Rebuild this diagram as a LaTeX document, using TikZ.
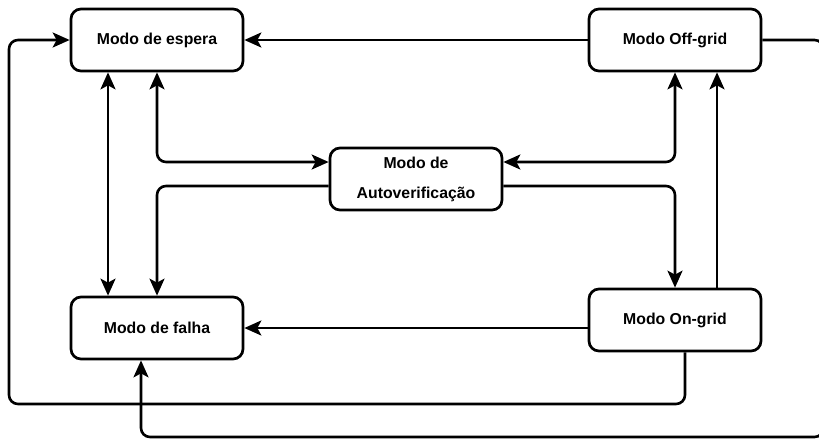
\documentclass[tikz,border=0pt]{standalone}
\usepackage{fontspec}
\setmainfont{Liberation Sans}
\usetikzlibrary{arrows.meta,calc}
\begin{document}
\begin{tikzpicture}[x=1pt,y=-1pt,
  box/.style={draw,line width=2.7pt,rounded corners=10pt,minimum width=172pt,minimum height=62pt,
    align=center,font=\bfseries\fontsize{15.8}{31}\selectfont,inner sep=0pt},
  tip/.tip={Stealth[length=17pt,width=15pt,inset=4pt]},
  conn/.style={line width=2.6pt,rounded corners=9pt,arrows={-tip}},
  dconn/.style={line width=2.6pt,rounded corners=9pt,arrows={tip-tip}}]
\useasboundingbox (0,0) rectangle (819,440);
\node[box] (esp) at (157,40) {Modo de espera};
\node[box] (off) at (675,40) {Modo Off-grid};
\node[box] (auto) at (416,179) {\raisebox{-3pt}{Modo de}\\\raisebox{-2pt}{Autoverificação}};
\node[box] (fal) at (157,328) {Modo de falha};
\node[box] (on) at (675,320) {Modo On-grid};
\coordinate (L) at (9,404);
\coordinate (R) at (823.5,437);
% connectors
\draw[conn] (off.west) -- (esp.east);
\draw[conn] ([xshift=10pt]on.south) |- (L) |- (esp.west);
\draw[dconn] ([xshift=-49pt]esp.south) -- ([xshift=-49pt]fal.north);
\draw[dconn] (esp.south) |- ([yshift=17pt]auto.west);
\draw[conn] ([yshift=-7pt]auto.west) -| (fal.north);
\draw[dconn] (off.south) |- ([yshift=17pt]auto.east);
\draw[conn] ([yshift=-7pt]auto.east) -| (on.north);
\draw[conn] ([xshift=42pt]on.north) -- ([xshift=42pt]off.south);
\draw[conn] (fal.east -| on.west) -- (fal.east);
\draw[conn] (off.east) -| (R) -| ([xshift=-16pt]fal.south);
\end{tikzpicture}
\end{document}
